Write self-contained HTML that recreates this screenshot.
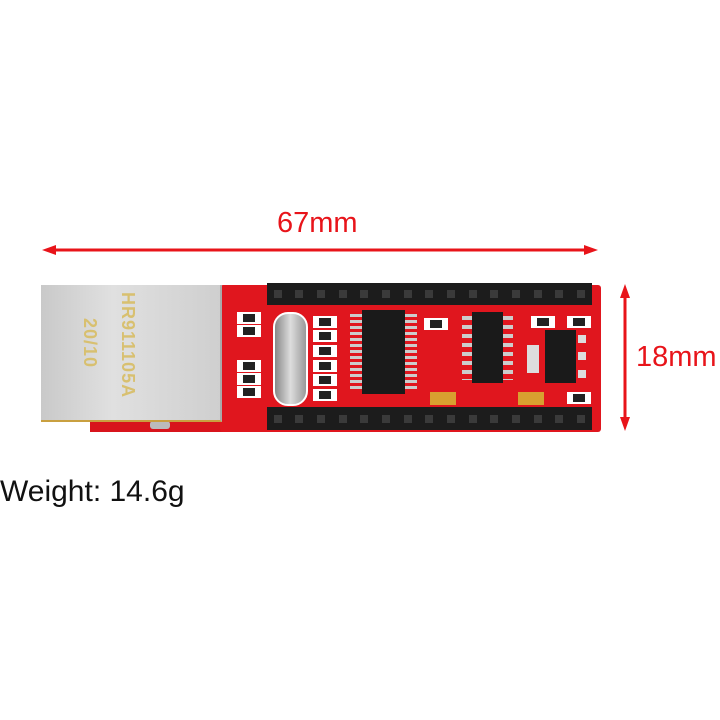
<!DOCTYPE html>
<html><head><style>
body{margin:0;width:720px;height:720px;background:#fff;position:relative;overflow:hidden;font-family:"Liberation Sans",sans-serif}
.a{position:absolute}
.t{color:#e8141a;font-size:29px}
.hdr{position:absolute;background:#1c1c1c;display:flex;justify-content:space-around;align-items:center}
.hdr i{width:8px;height:8px;background:#3a3a3a;display:block}
.smd{position:absolute;width:22px;height:10px;background:#fff;border:1px solid #fff}
.smd::after{content:"";position:absolute;left:5px;top:1px;width:12px;height:8px;background:#222}
</style></head><body>
<div class="a t" style="left:277px;top:207px">67mm</div>
<svg class="a" style="left:0;top:0" width="720" height="720">
<line x1="50" y1="250" x2="590" y2="250" stroke="#e8141a" stroke-width="3"/>
<polygon points="42,250 56,245 56,255" fill="#e8141a"/>
<polygon points="598,250 584,245 584,255" fill="#e8141a"/>
<line x1="625" y1="292" x2="625" y2="423" stroke="#e8141a" stroke-width="3"/>
<polygon points="625,284 620,298 630,298" fill="#e8141a"/>
<polygon points="625,431 620,417 630,417" fill="#e8141a"/>
</svg>
<div class="a t" style="left:636px;top:341px">18mm</div>
<div class="a" style="left:0;top:475px;font-size:30px;color:#111">Weight: 14.6g</div>
<div class="a" style="left:90px;top:405px;width:180px;height:27px;background:#d8141c"></div>
<div class="a" style="left:220px;top:285px;width:381px;height:147px;background:#e0161e;border-radius:3px"></div>
<div class="a" style="left:150px;top:421px;width:20px;height:8px;background:#bbb;border-radius:3px"></div>
<div class="a" style="left:41px;top:285px;width:179px;height:135px;background:linear-gradient(90deg,#c9c9c9,#e0e0e0 40%,#cfcfcf);border-bottom:2px solid #c9a040;border-right:2px solid #aaa"></div>
<div class="a" style="left:138px;top:292px;color:#d8c070;font-size:18px;transform:rotate(90deg);transform-origin:left top;letter-spacing:1px;font-weight:bold;white-space:nowrap">HR911105A</div>
<div class="a" style="left:100px;top:318px;color:#d8c070;font-size:18px;transform:rotate(90deg);transform-origin:left top;letter-spacing:1px;font-weight:bold;white-space:nowrap">20/10</div>
<div class="hdr" style="left:267px;top:283px;width:325px;height:22px"><i></i><i></i><i></i><i></i><i></i><i></i><i></i><i></i><i></i><i></i><i></i><i></i><i></i><i></i><i></i></div>
<div class="hdr" style="left:267px;top:407px;width:325px;height:23px"><i></i><i></i><i></i><i></i><i></i><i></i><i></i><i></i><i></i><i></i><i></i><i></i><i></i><i></i><i></i></div>
<div class="a" style="left:273px;top:312px;width:31px;height:90px;background:linear-gradient(90deg,#888,#ddd,#999);border-radius:15px;border:2px solid #fff"></div>
<div class="a" style="left:350px;top:314px;width:67px;height:78px;background:repeating-linear-gradient(#ccc 0 3px,transparent 3px 6px)"></div>
<div class="a" style="left:362px;top:310px;width:43px;height:84px;background:#1a1a1a"></div>
<div class="a" style="left:462px;top:316px;width:51px;height:64px;background:repeating-linear-gradient(#ccc 0 4px,transparent 4px 9px)"></div>
<div class="a" style="left:472px;top:312px;width:31px;height:71px;background:#1a1a1a"></div>
<div class="a" style="left:545px;top:330px;width:31px;height:53px;background:#1a1a1a"></div>
<div class="a" style="left:527px;top:345px;width:12px;height:28px;background:#ddd"></div>
<div class="a" style="left:578px;top:335px;width:8px;height:8px;background:#ddd"></div>
<div class="a" style="left:578px;top:352px;width:8px;height:8px;background:#ddd"></div>
<div class="a" style="left:578px;top:370px;width:8px;height:8px;background:#ddd"></div>
<div class="a" style="left:430px;top:392px;width:26px;height:13px;background:#d8a030"></div>
<div class="a" style="left:518px;top:392px;width:26px;height:13px;background:#d8a030"></div>
<div class="smd" style="left:237px;top:312px"></div><div class="smd" style="left:237px;top:325px"></div>
<div class="smd" style="left:237px;top:360px"></div><div class="smd" style="left:237px;top:373px"></div><div class="smd" style="left:237px;top:386px"></div>
<div class="smd" style="left:313px;top:316px"></div><div class="smd" style="left:313px;top:330px"></div><div class="smd" style="left:313px;top:345px"></div><div class="smd" style="left:313px;top:360px"></div><div class="smd" style="left:313px;top:374px"></div><div class="smd" style="left:313px;top:389px"></div>
<div class="smd" style="left:424px;top:318px"></div><div class="smd" style="left:531px;top:316px"></div><div class="smd" style="left:567px;top:316px"></div><div class="smd" style="left:567px;top:392px"></div>
</body></html>
